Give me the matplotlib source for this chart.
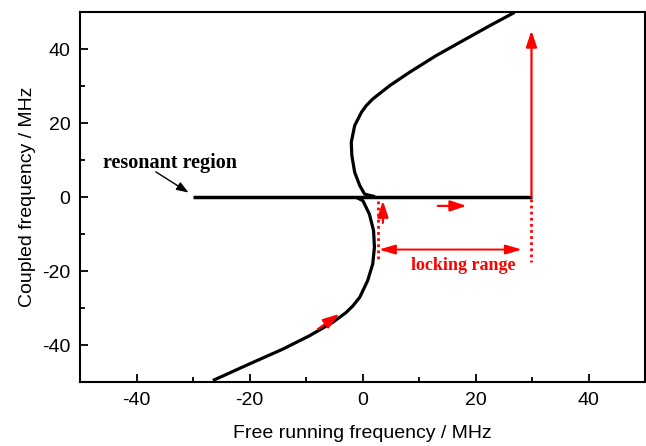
import matplotlib.pyplot as plt

# curve (free running vs coupled frequency, MHz)
upper_x = [2.2, 1.5, 0.35, -0.5, -1.4, -1.9, -2.0, -1.4, -0.2, 0.65, 1.8, 3.3, 4.8, 8.3, 13.0, 17.8, 22.5, 26.9]
upper_y = [0.1, 0.35, 0.8, 3.1, 6.7, 11.2, 14.8, 19.3, 22.9, 24.7, 26.5, 28.3, 30.1, 33.7, 38.2, 42.3, 46.3, 49.9]

lower_x = [-1.1, 0.06, 1.2, 1.95, 2.1, 1.8, 0.9, -0.5, -1.7, -2.9, -5.3, -9.4, -14.1, -20.0, -26.5]
lower_y = [-0.1, -1.0, -4.6, -9.1, -13.6, -18.1, -22.6, -27.1, -29.4, -31.2, -33.9, -37.5, -41.1, -45.1, -49.6]

flat_x = [-30, 30]
flat_y = [0, 0]

xticks = [-40, -20, 0, 20, 40]
yticks = [-40, -20, 0, 20, 40]

plt.rcParams['font.family'] = ['Liberation Sans', 'DejaVu Sans']
plt.rcParams['axes.unicode_minus'] = False

fig = plt.figure(figsize=(6.46, 4.46), dpi=100)
ax = fig.add_axes([0.124, 0.1435, 0.8745, 0.8295])

ax.plot(upper_x, upper_y, color='black', lw=2.3, solid_capstyle='butt', solid_joinstyle='round')
ax.plot(lower_x, lower_y, color='black', lw=2.3, solid_capstyle='butt', solid_joinstyle='round')
ax.plot(flat_x, flat_y, color='black', lw=2.5, solid_capstyle='butt')

red = 'red'
head = '-|>,head_length=0.75,head_width=0.25'


def red_arrow(tip, tail):
    ax.annotate('', xy=tip, xytext=tail,
                arrowprops=dict(arrowstyle=head, color=red, lw=1.6, mutation_scale=13,
                                shrinkA=0, shrinkB=0))


# jump at the end of the locking range
red_arrow((29.9, 45), (29.9, 0))
# small arrows
red_arrow((3.6, -1.0), (3.6, -7.0))
red_arrow((18.4, -2.4), (13.3, -2.4))
red_arrow((-4.1, -31.6), (-7.9, -35.7))
# locking range
ax.annotate('', xy=(2.9, -14.2), xytext=(28.2, -14.2),
            arrowprops=dict(arrowstyle='<|-|>,head_length=0.75,head_width=0.22', color=red, lw=1.4,
                            mutation_scale=13, shrinkA=0, shrinkB=0))
ax.plot([2.7, 2.7], [-1.0, -17.5], color=red, lw=2, ls=(0, (1, 1.2)))
ax.plot([29.9, 29.9], [-0.5, -17.5], color=red, lw=2, ls=(0, (1, 1.2)))
ax.text(17.9, -18.6, 'locking range', color=red, fontsize=13, fontweight='bold',
        family=['Liberation Serif'], ha='center', va='center')

ax.text(-34.0, 9.3, 'resonant region', fontsize=14.5, fontweight='bold',
        family=['Liberation Serif'], ha='center', va='center')
ax.annotate('', xy=(-30.8, 1.2), xytext=(-36.6, 6.8),
            arrowprops=dict(arrowstyle='-|>,head_length=0.6,head_width=0.22', color='black', lw=1,
                            mutation_scale=12, shrinkA=0, shrinkB=0))

ax.set_xlim(-50, 50)
ax.set_ylim(-50, 50)
ax.set_xticks(xticks)
ax.set_yticks(yticks)
ax.set_xticks(range(-50, 51, 10), minor=True)
ax.set_yticks(range(-50, 51, 10), minor=True)
ax.tick_params(which='major', direction='in', length=6, width=1.3, labelsize=14, pad=7,
               top=False, right=False)
ax.tick_params(which='minor', direction='in', length=3.5, width=1.3, top=False, right=False)
for s in ax.spines.values():
    s.set_linewidth(1.5)

ax.set_xlabel('Free running frequency / MHz', fontsize=14, labelpad=12)
ax.set_ylabel('Coupled frequency / MHz', fontsize=14, labelpad=4)

fig.savefig('out.png', dpi=100)
